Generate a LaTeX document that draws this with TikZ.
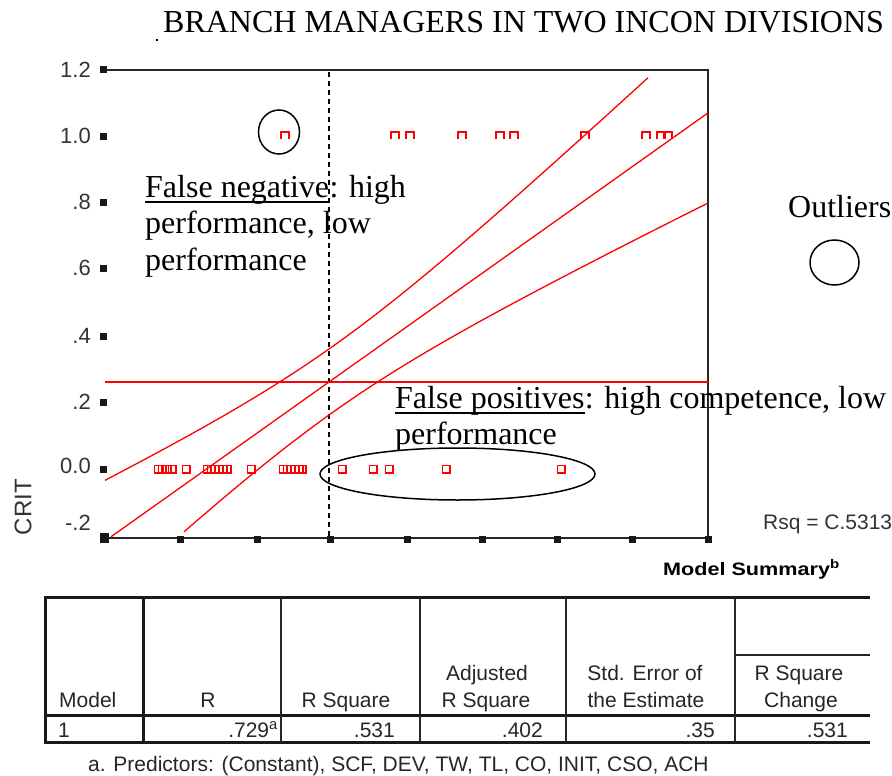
\documentclass[tikz,border=0pt]{standalone}
\usepackage{fontspec}
\setmainfont{Liberation Serif}
\newfontfamily\spss{Liberation Sans}
\newfontfamily\spsswide[FakeStretch=1.2]{Liberation Sans}
\begin{document}
\begin{tikzpicture}[x=1pt,y=-1pt,
  serif/.style={font=\fontsize{32}{37}\selectfont, inner sep=0pt, anchor=base west},
  ylab/.style={font=\spss\fontsize{22}{24}\selectfont, text=black!80, inner sep=0pt, anchor=east},
  tbl/.style={font=\spss\fontsize{21}{27}\selectfont, text=black!85, inner sep=0pt},
  frameline/.style={draw=black!85, line width=2pt},
  tick/.style={fill=black!90},
  ptsq/.style={draw=red, line width=1.4pt},
  band/.style={red, line width=1.3pt},
  annot/.style={draw=black, line width=1.5pt},
  tthick/.style={draw=black!90, line width=3pt},
  tthin/.style={draw=black!85, line width=2pt}
]
\useasboundingbox (0,0) rectangle (892,776);

% title
\node[serif] (title) at (163,33) {BRANCH MANAGERS IN TWO INCON DIVISIONS};
\fill (156,39) rectangle (158,41);

% plot frame
\draw[frameline] (103,70) -- (708,70) -- (708,538);
\draw[frameline] (103,537.5) -- (708,537.5);

% left ticks and labels
\foreach \yy/\lab/\ly in {70/1.2/69.5, 136/1.0/136, 202/.8/202, 268/.6/267.5, 336/.4/335.5, 402/.2/401.7, 469/0.0/466, 535/-.2/523}{
  \node[ylab] (yl\yy) at (91,\ly) {\lab};
}
\foreach \yy in {70,136,202,268,336,402,469}{
  \fill[tick] (100,\yy-3.5) rectangle (106.5,\yy+3.5);
}
\fill[tick] (100,533) rectangle (109,542.5);
% bottom ticks
\foreach \xx in {180,257,330,407,482,557,632,708}{
  \fill[tick] (\xx-3.5,535.5) rectangle (\xx+3.5,542.5);
}

% axis title
\node[font=\spss\fontsize{24}{26}\selectfont, text=black!80, inner sep=0pt, rotate=90] (crit) at (23,507) {CRIT};
\node[font=\spss\fontsize{21}{24}\selectfont, text=black!80, inner sep=0pt, anchor=base west] (rsq) at (763,529) {Rsq = C.5313};

% dashed vertical line
\draw[black, line width=1.5pt, dash pattern=on 5pt off 4pt] (329,72) -- (329,536);

% horizontal red line
\draw[red, line width=1.6pt] (105,382) -- (708,382);

% regression line and confidence bands
\draw[band] plot[domain=111:708, samples=2] (\x,{382-0.71*(\x-329)});
\draw[band] plot[domain=105:648, samples=60] (\x,{382-0.71*(\x-329)-sqrt(1088+(0.2236*(\x-333))^2)});
\draw[band] plot[domain=184:708, samples=60] (\x,{382-0.71*(\x-329)+sqrt(1088+(0.2236*(\x-333))^2)});

% data points at 0
\foreach \xx in {158,162,167,172,186,207,211,215,219,223,227,251,283,287,291,295,299,302,342,373,389,446,561}{
  \draw[ptsq] (\xx-3.8,465.2) rectangle (\xx+3.8,472.8);
}
% data points at 1
\foreach \xx in {285,395,410,462,500,514,585,646,661,668}{
  \draw[ptsq] (\xx-4,139) -- (\xx-4,132) -- (\xx+4,132) -- (\xx+4,139);
}

% annotations
\draw[annot] (279,132) ellipse (20.5 and 22);
\draw[annot] (834.5,262.5) ellipse (24.5 and 22.5);
\draw[annot] (457.5,474) ellipse (137.5 and 26);

\node[serif] (outl) at (788,217) {Outliers};

\node[serif] (fnA) at (145,197) {False negative};
\node[serif] (fnB) at (fnA.base east) {: high};
\draw[line width=1.6pt] ([yshift=-5pt]fnA.base west) -- ([yshift=-5pt]fnA.base east);
\node[serif] (fn2) at (145,233) {performance, low};
\node[serif] (fn3) at (145,270) {performance};

\node[serif] (fpA) at (395,408) {False positives};
\node[serif] (fpB) at (fpA.base east) {: high competence, low};
\draw[line width=1.6pt] ([yshift=-5pt]fpA.base west) -- ([yshift=-5pt]fpA.base east);
\node[serif] (fp2) at (395,444) {performance};

% table
\node[font=\spsswide\bfseries\fontsize{18}{20}\selectfont, inner sep=0pt, anchor=base west] (msum) at (663,575) {Model Summary\textsuperscript{b}};

\draw[tthick] (45,597) -- (870,597);
\draw[tthick] (45,715) -- (870,715);
\draw[tthick] (45,742) -- (870,742);
\draw[tthick] (45,595.5) -- (45,743.5);
\draw[tthick] (143,597) -- (143,742);
\foreach \xx in {281,420,566,735}{
  \draw[tthin] (\xx,597) -- (\xx,742);
}
\draw[tthin] (735,655) -- (870,655);

\node[tbl, anchor=base west] (hmodel) at (59,707) {Model};
\node[tbl, anchor=base] (hr) at (208,707) {R};
\node[tbl, anchor=base] (hrsq) at (346,707) {R Square};
\node[tbl, anchor=base] (hadj1) at (487,680) {Adjusted};
\node[tbl, anchor=base] (hadj2) at (486,707) {R Square};
\node[tbl, anchor=base] (hse1) at (645,680) {Std. Error of};
\node[tbl, anchor=base] (hse2) at (646,707) {the Estimate};
\node[tbl, anchor=base] (hch1) at (799,680) {R Square};
\node[tbl, anchor=base] (hch2) at (801,707) {Change};

\node[tbl, anchor=base west] (d1) at (58,737) {1};
\node[tbl, anchor=base east] (d2) at (278,737) {.729\textsuperscript{a}};
\node[tbl, anchor=base east] (d3) at (395,737) {.531};
\node[tbl, anchor=base east] (d4) at (543,737) {.402};
\node[tbl, anchor=base east] (d5) at (715,737) {.35};
\node[tbl, anchor=base east] (d6) at (848,737) {.531};

\node[tbl, anchor=base west] (foot) at (88,771) {a. Predictors: (Constant), SCF, DEV, TW, TL, CO, INIT, CSO, ACH};
\end{tikzpicture}
\end{document}
